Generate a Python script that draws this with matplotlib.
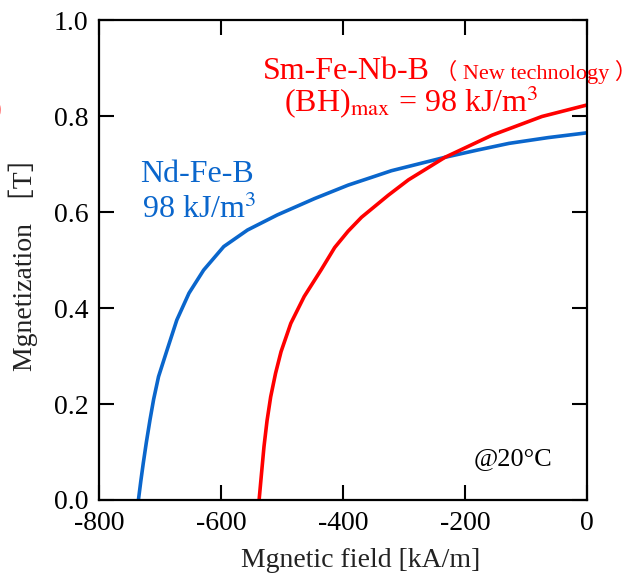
import matplotlib
matplotlib.use("Agg")
from matplotlib import pyplot as plt

# demagnetization curves
nd_h = [-736, -732, -728, -723, -717, -711, -703, -689, -673, -653, -629, -596, -557,
        -508, -447, -392, -354, -321, -233, -180, -128, -64, 0]
nd_m = [0.0, 0.040, 0.077, 0.120, 0.167, 0.210, 0.257, 0.3125, 0.375, 0.431, 0.479, 0.528, 0.5625,
        0.594, 0.628, 0.656, 0.672, 0.686, 0.714, 0.729, 0.743, 0.755, 0.765]

sm_h = [-538, -534, -530, -525, -519, -511, -502, -486, -464, -436, -414, -392, -370,
        -348, -326, -293, -233, -156, -74, 0]
sm_m = [0.0, 0.056, 0.111, 0.165, 0.215, 0.264, 0.309, 0.368, 0.424, 0.480, 0.526, 0.560, 0.589,
        0.612, 0.635, 0.667, 0.714, 0.760, 0.799, 0.823]

x_ticks = [-800, -600, -400, -200, 0]
y_ticks = [0.0, 0.2, 0.4, 0.6, 0.8, 1.0]

blue = '#0a66cc'
red = '#ff0000'

plt.rcParams['font.family'] = ['Liberation Serif', 'Noto Sans CJK JP', 'DejaVu Sans']
plt.rcParams['mathtext.fontset'] = 'stix'

fig = plt.figure(figsize=(6.36, 5.82), dpi=100)
ax = fig.add_axes([0.1563, 0.1409, 0.7667, 0.8247])

ax.plot(nd_h, nd_m, color=blue, lw=2.6, solid_capstyle='butt', solid_joinstyle='round')
ax.plot(sm_h, sm_m, color=red, lw=2.6, solid_capstyle='butt', solid_joinstyle='round')

ax.set_xlim(-800, 0)
ax.set_ylim(0, 1.0)
ax.set_xticks(x_ticks)
ax.set_xticklabels([str(v) for v in x_ticks])
ax.set_yticks(y_ticks)
ax.set_yticklabels(['%.1f' % v for v in y_ticks])
ax.tick_params(direction='in', length=11, width=1.5, labelsize=20,
               top=True, right=True, pad=8)
for s in ax.spines.values():
    s.set_linewidth(1.6)

ax.set_xlabel('Mgnetic field [kA/m]', fontsize=20, color='#222222')
ax.xaxis.set_label_coords(0.535, -0.1)
ax.set_ylabel('Mgnetization ［T］', fontsize=20, color='#222222')
ax.yaxis.set_label_coords(-0.125, 0.505)

# annotations
ax.text(-640, 0.6625, 'Nd-Fe-B', color=blue, fontsize=23, ha='center')
ax.text(-636, 0.5875, '98 kJ/m$^3$', color=blue, fontsize=23, ha='center')

ax.text(-532, 0.877, 'Sm-Fe-Nb-B', color=red, fontsize=23, clip_on=False)
ax.text(-250, 0.877, '（ New technology ）', color=red, fontsize=16, clip_on=False)
ax.text(-497, 0.808, '(BH)$_{\\rm max}$ = 98 kJ/m$^3$', color=red, fontsize=23, clip_on=False)

ax.text(-186, 0.073, '@20°C', color='black', fontsize=19)

# clipped fragment at the left edge of the picture
fig.text(-0.012, 0.80, ')', color=red, fontsize=21)

fig.savefig('out.png', dpi=100)
